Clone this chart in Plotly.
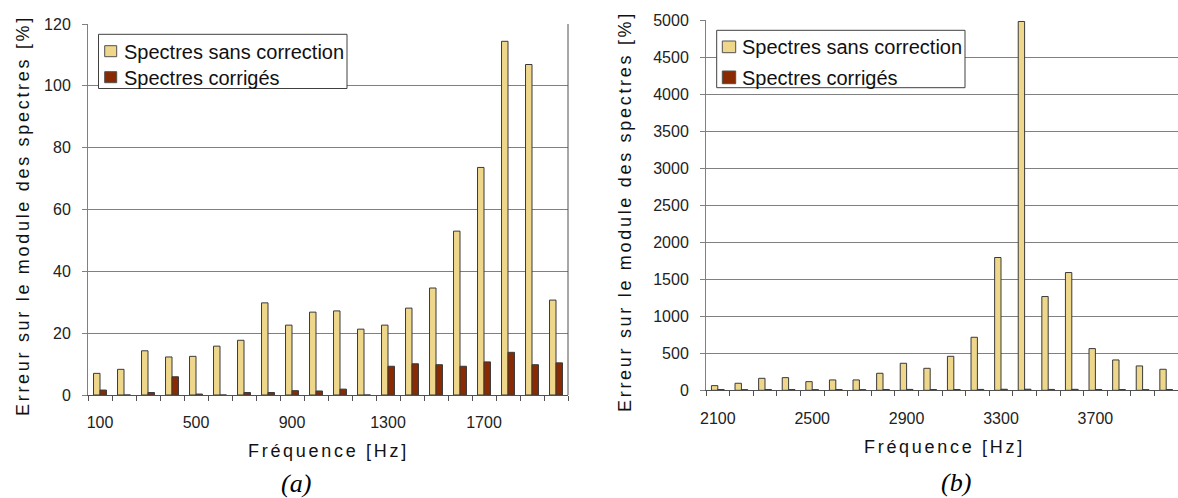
import plotly.graph_objects as go

# ---------------- data ----------------
freq_a = [100, 200, 300, 400, 500, 600, 700, 800, 900, 1000,
          1100, 1200, 1300, 1400, 1500, 1600, 1700, 1800, 1900, 2000]
sans_a = [7.0, 8.3, 14.3, 12.3, 12.5, 15.8, 17.7, 29.8, 22.6, 26.8,
          27.2, 21.3, 22.6, 28.1, 34.6, 53.0, 73.6, 114.4, 106.9, 30.7]
corr_a = [1.6, 0.0, 0.8, 5.9, 0.3, 0.0, 0.8, 0.8, 1.4, 1.3,
          1.9, 0.0, 9.3, 10.1, 9.8, 9.3, 10.7, 13.8, 9.8, 10.4]

freq_b = [2100, 2200, 2300, 2400, 2500, 2600, 2700, 2800, 2900, 3000,
          3100, 3200, 3300, 3400, 3500, 3600, 3700, 3800, 3900, 4000]
sans_b = [63, 95, 162, 171, 117, 140, 140, 230, 365, 297,
          459, 716, 1793, 4980, 1266, 1590, 563, 410, 329, 284]
corr_b = [10, 9, 11, 10, 9, 10, 9, 11, 12, 10,
          11, 12, 14, 15, 12, 13, 11, 10, 9, 10]

ticks_a = [100, 500, 900, 1300, 1700]
ticks_b = [2100, 2500, 2900, 3300, 3700]

name_sans = "Spectres sans correction"
name_corr = "Spectres corrigés"
ytitle = "Erreur sur le module des spectres [%]"
xtitle = "Fréquence [Hz]"

# ---------------- style ----------------
FONT = "Liberation Sans, Arial, sans-serif"
C_SANS = "#eed68b"
C_CORR = "#8a2a02"
C_EDGE = "#3a3a3a"
GRID = "#808080"

W, H = 1178, 498
def px_x(p):
    return p / W
def px_y(p):
    return (H - p) / H

fig = go.Figure()
for xs, s, c, xa, ya in [(freq_a, sans_a, corr_a, "x", "y"), (freq_b, sans_b, corr_b, "x2", "y2")]:
    fig.add_trace(go.Bar(x=xs, y=s, name=name_sans, showlegend=False,
                         marker=dict(color=C_SANS, line=dict(color=C_EDGE, width=1)), xaxis=xa, yaxis=ya))
    fig.add_trace(go.Bar(x=xs, y=c, name=name_corr, showlegend=False,
                         marker=dict(color=C_CORR, line=dict(color=C_EDGE, width=1)), xaxis=xa, yaxis=ya))

tickfont = dict(family=FONT, size=16, color="#222222")

def xaxis(dom, anchor, tv, lo):
    return dict(domain=dom, anchor=anchor, range=[lo - 50, lo + 1950], automargin=False,
                tickvals=tv, ticktext=[str(v) for v in tv], ticks="",
                showgrid=False, zeroline=False, showline=True, linecolor="#505050", linewidth=1,
                tickfont=tickfont, ticklabelstandoff=13,
                minor=dict(tick0=lo - 50, dtick=100, ticks="outside", ticklen=5, tickcolor="#505050", showgrid=False))

def yaxis(dom, anchor, rng, dt):
    return dict(domain=dom, anchor=anchor, range=rng, dtick=dt, tick0=0, automargin=False,
                showgrid=True, gridcolor=GRID, gridwidth=1, zeroline=False,
                showline=True, linecolor="#808080", linewidth=1,
                ticks="outside", ticklen=5, tickcolor="#808080",
                tickfont=tickfont, ticklabelstandoff=8)

fig.update_layout(
    template="none",
    width=W, height=H,
    margin=dict(l=0, r=0, t=0, b=0, pad=0),
    paper_bgcolor="white", plot_bgcolor="white",
    barmode="group", bargap=0.46, bargroupgap=0,
    xaxis=xaxis([px_x(88), px_x(568)], "y", ticks_a, 100),
    yaxis=yaxis([px_y(395), px_y(24)], "x", [0, 120], 20),
    xaxis2=xaxis([px_x(706), 1.0], "y2", ticks_b, 2100),
    yaxis2=yaxis([px_y(390.3), px_y(20)], "x2", [0, 5000], 500),
    showlegend=False,
)

# right border of panel (a)
fig.add_shape(type="line", xref="x domain", yref="y domain", x0=1, x1=1, y0=0, y1=1,
              line=dict(color="#505050", width=1))

# legend boxes (drawn manually to match the original compact layout)
def legend_box(x0, y0, x1, y1, sw_x0, sw_x1, rows, text_x):
    fig.add_shape(type="rect", xref="paper", yref="paper",
                  x0=px_x(x0), x1=px_x(x1), y0=px_y(y1), y1=px_y(y0),
                  fillcolor="white", line=dict(color="#404040", width=1), layer="above")
    for (ry0, ry1), name, col in zip(rows, [name_sans, name_corr], [C_SANS, C_CORR]):
        fig.add_shape(type="rect", xref="paper", yref="paper",
                      x0=px_x(sw_x0), x1=px_x(sw_x1), y0=px_y(ry1), y1=px_y(ry0),
                      fillcolor=col, line=dict(color="#505050", width=1), layer="above")
        fig.add_annotation(text=name, x=px_x(text_x), y=px_y((ry0 + ry1) / 2 + 0.5),
                           xref="paper", yref="paper", showarrow=False,
                           xanchor="left", yanchor="middle",
                           font=dict(family=FONT, size=20, color="#111111"))

legend_box(98.5, 34.3, 347, 88.5, 104.7, 116.7, [(45.7, 56.7), (71.7, 82.7)], 121.5)
legend_box(716.7, 30.3, 965, 87.7, 722.3, 735.7, [(41, 52.7), (71, 83.7)], 739.5)

def spaced(t, sp):
    return f'<span style="letter-spacing:{sp}px">{t}</span>'

annots = [
    (spaced(ytitle, 2.7), 23, 216, -90),
    (spaced(ytitle, 2.7), 625, 212, -90),
    (spaced(xtitle, 2.7), 328, 451, 0),
    (spaced(xtitle, 2.7), 944, 447, 0),
]
for txt, xc, yc, ang in annots:
    fig.add_annotation(text=txt, x=px_x(xc), y=px_y(yc), xref="paper", yref="paper",
                       showarrow=False, textangle=ang, xanchor="center", yanchor="middle",
                       font=dict(family=FONT, size=18, color="#111111"))

for lab, xc, yc in [("(a)", 296, 483), ("(b)", 956, 482)]:
    fig.add_annotation(text=f"<i>{lab}</i>", x=px_x(xc), y=px_y(yc), xref="paper", yref="paper",
                       showarrow=False, xanchor="center", yanchor="middle",
                       font=dict(family="Liberation Serif, Times New Roman, serif", size=26, color="#000000"))

fig.write_html("out.html",
               config={"displayModeBar": False},
               post_script="document.body.style.margin='0';document.body.style.overflow='hidden';")
